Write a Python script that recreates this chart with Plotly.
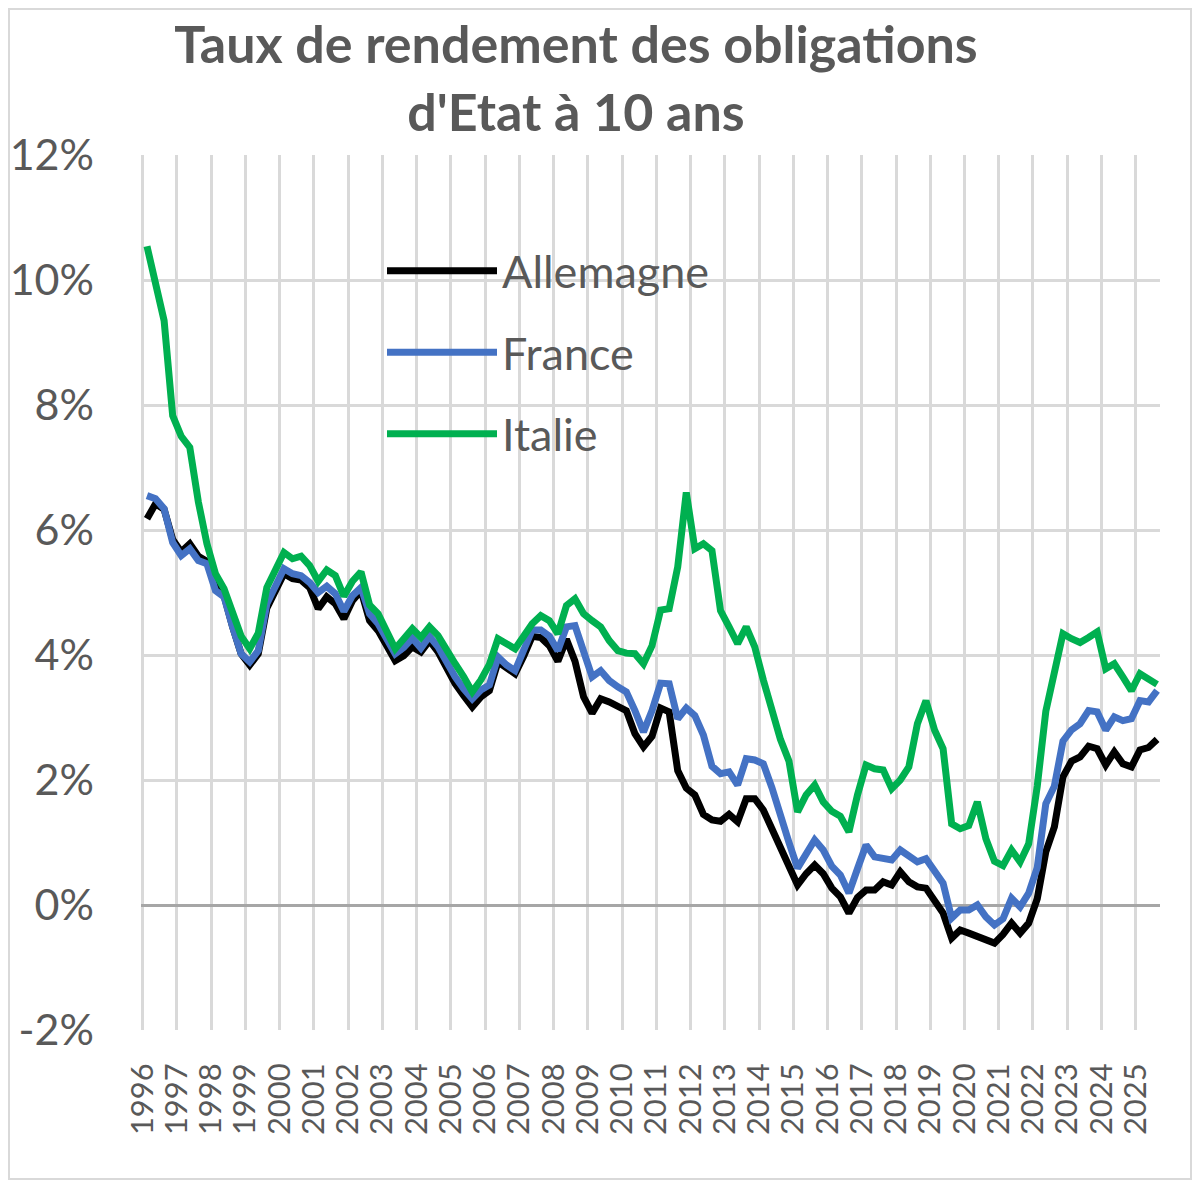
import plotly.graph_objects as go

# Quarterly 10-year government bond yields (%), 1996 Q1 .. 2025 Q3
quarters = [f"{y}T{q}" for y in range(1996, 2026) for q in range(1, 5)][:119]

allemagne = [
    6.18, 6.42, 6.33, 5.85, 5.65, 5.78, 5.58, 5.50, 5.10, 4.95,
    4.45, 4.02, 3.84, 4.02, 4.75, 5.02, 5.30, 5.22, 5.20, 5.08,
    4.74, 4.93, 4.82, 4.58, 4.87, 5.03, 4.55, 4.39, 4.13, 3.91,
    3.99, 4.13, 4.05, 4.23, 4.05, 3.78, 3.54, 3.35, 3.17, 3.33,
    3.43, 3.89, 3.78, 3.70, 3.98, 4.30, 4.28, 4.15, 3.90, 4.25,
    3.90, 3.33, 3.07, 3.30, 3.25, 3.18, 3.11, 2.74, 2.53, 2.70,
    3.15, 3.09, 2.15, 1.87, 1.76, 1.45, 1.36, 1.34, 1.45, 1.33,
    1.70, 1.70, 1.52, 1.22, 0.90, 0.60, 0.32, 0.50, 0.64, 0.50,
    0.27, 0.13, -0.13, 0.12, 0.24, 0.24, 0.37, 0.32, 0.53, 0.37,
    0.29, 0.27, 0.08, -0.13, -0.53, -0.40, -0.45, -0.51, -0.56, -0.61,
    -0.47, -0.29, -0.45, -0.29, 0.10, 0.85, 1.25, 2.05, 2.30, 2.37,
    2.54, 2.50, 2.24, 2.45, 2.26, 2.21, 2.48, 2.52, 2.65,
]

france = [
    6.55, 6.50, 6.34, 5.80, 5.59, 5.70, 5.51, 5.46, 5.03, 4.93,
    4.45, 4.02, 3.89, 4.07, 4.82, 5.08, 5.38, 5.30, 5.27, 5.16,
    5.00, 5.10, 4.98, 4.70, 4.95, 5.08, 4.66, 4.50, 4.25, 4.02,
    4.12, 4.27, 4.11, 4.30, 4.13, 3.86, 3.65, 3.46, 3.30, 3.44,
    3.52, 3.97, 3.84, 3.75, 4.05, 4.40, 4.40, 4.30, 4.07, 4.45,
    4.47, 4.02, 3.65, 3.75, 3.59, 3.49, 3.41, 3.11, 2.77, 3.11,
    3.55, 3.54, 2.98, 3.15, 3.03, 2.72, 2.22, 2.10, 2.13, 1.92,
    2.34, 2.32, 2.26, 1.88, 1.40, 1.00, 0.59, 0.82, 1.04, 0.88,
    0.62, 0.48, 0.19, 0.58, 0.96, 0.77, 0.74, 0.72, 0.88, 0.77,
    0.69, 0.74, 0.56, 0.35, -0.21, -0.08, -0.08, 0.00, -0.19, -0.32,
    -0.22, 0.11, -0.03, 0.19, 0.60, 1.62, 1.90, 2.62, 2.80, 2.90,
    3.11, 3.09, 2.80, 3.01, 2.95, 2.98, 3.27, 3.25, 3.43,
]

italie = [
    10.54, 9.95, 9.35, 7.83, 7.50, 7.32, 6.45, 5.78, 5.30, 5.06,
    4.70, 4.30, 4.10, 4.35, 5.08, 5.38, 5.64, 5.54, 5.58, 5.43,
    5.18, 5.36, 5.27, 4.94, 5.18, 5.33, 4.80, 4.66, 4.39, 4.10,
    4.26, 4.42, 4.28, 4.45, 4.31, 4.07, 3.86, 3.65, 3.41, 3.60,
    3.85, 4.26, 4.18, 4.10, 4.30, 4.50, 4.63, 4.55, 4.34, 4.79,
    4.90, 4.66, 4.55, 4.45, 4.23, 4.07, 4.03, 4.02, 3.86, 4.15,
    4.72, 4.74, 5.41, 6.60, 5.70, 5.78, 5.67, 4.71, 4.45, 4.18,
    4.45, 4.13, 3.60, 3.10, 2.65, 2.30, 1.49, 1.76, 1.92, 1.65,
    1.50, 1.42, 1.17, 1.76, 2.24, 2.18, 2.16, 1.86, 2.00, 2.21,
    2.90, 3.27, 2.80, 2.50, 1.30, 1.22, 1.27, 1.65, 1.06, 0.70,
    0.63, 0.88, 0.69, 0.98, 1.90, 3.10, 3.72, 4.34, 4.26, 4.20,
    4.28, 4.37, 3.78, 3.86, 3.65, 3.43, 3.70, 3.62, 3.53,
]

year_ticks = list(range(1996, 2026))
year_labels = [str(y) for y in year_ticks]
y_ticks = [-2, 0, 2, 4, 6, 8, 10, 12]
y_labels = ["-2%", "0%", "2%", "4%", "6%", "8%", "10%", "12%"]

series = [
    ("Allemagne", allemagne, "#000000"),
    ("France", france, "#4472C4"),
    ("Italie", italie, "#00B050"),
]

# position of each quarter on the time axis (middle of the quarter)
xpos = [1996.125 + 0.25 * i for i in range(len(quarters))]

# page has an 8px body margin: figure is sized so that it fills the window
W, H = 1184, 1172
L, R, T, B = 133, 32, 147, 150
PW, PH = W - L - R, H - T - B

fig = go.Figure()
for name, vals, color in series:
    fig.add_trace(go.Scatter(
        x=xpos, y=vals, name=name, mode="lines",
        line=dict(color=color, width=7),
        legendgroup=name,
        customdata=quarters,
    ))

grid = "#d9d9d9"
txt = "#595959"
font = "Lato"

fig.update_layout(
    width=W, height=H,
    margin=dict(l=L, r=R, t=T, b=B, autoexpand=False),
    paper_bgcolor="white", plot_bgcolor="white",
    title=dict(
        text="Taux de rendement des obligations<br>d'Etat à 10 ans",
        font=dict(family=font, size=52, color=txt, weight="bold"),
        x=568 / W, xanchor="center",
        yref="container", y=1 - 55 / H, yanchor="top",
    ),
    showlegend=True,
    legend=dict(
        x=(374 - L) / PW, xanchor="left",
        y=(H - B - 227) / PH, yanchor="top",
        font=dict(family=font, size=45, color=txt),
        bgcolor="rgba(0,0,0,0)",
        itemwidth=110,
        tracegroupgap=20,
    ),
    xaxis=dict(
        range=[1995.95, 2025.71],
        tickmode="array", tickvals=year_ticks, ticktext=year_labels,
        tickangle=-90,
        tickfont=dict(family=font, size=31, color=txt),
        showgrid=True, gridcolor=grid, gridwidth=2.5,
        zeroline=False, showline=False, ticks="",
        ticklabelstandoff=26, automargin=False,
    ),
    yaxis=dict(
        range=[-2, 12],
        tickmode="array", tickvals=y_ticks, ticktext=y_labels,
        tickfont=dict(family=font, size=43, color=txt),
        showgrid=True, gridcolor=grid, gridwidth=2.5,
        zeroline=True, zerolinecolor="#a6a6a6", zerolinewidth=2.5,
        showline=False, ticks="",
        ticklabelstandoff=46, automargin=False,
    ),
    shapes=[dict(
        type="rect", xref="paper", yref="paper", layer="below",
        x0=(1 - L) / PW, x1=(W - 1 - L) / PW,
        y0=(H - B - (H - 1)) / PH, y1=(H - B - 1) / PH,
        line=dict(color="#d9d9d9", width=2),
    )],
)

fig.write_html("out.html")
